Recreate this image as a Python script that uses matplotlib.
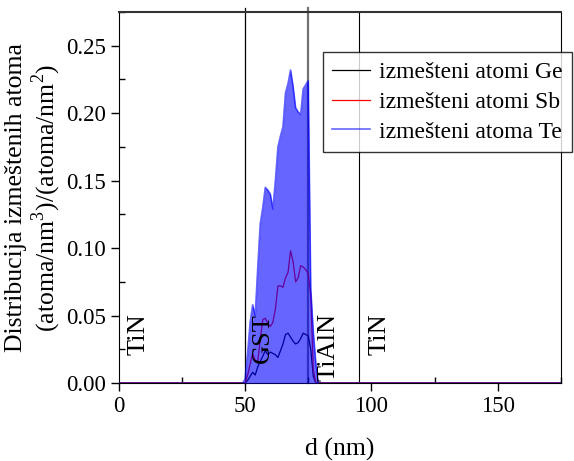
import numpy as np
import matplotlib
matplotlib.use("Agg")
import matplotlib.pyplot as plt
from matplotlib.ticker import MultipleLocator

plt.rcParams['font.family'] = ['Liberation Serif', 'DejaVu Serif']
plt.rcParams['mathtext.fontset'] = 'custom'
plt.rcParams['mathtext.rm'] = 'Liberation Serif'

# depth (nm)
d = [0, 49, 50, 51, 52, 53, 54, 55, 56, 57, 58, 59, 60, 61, 62, 63, 64, 65,
     66, 67, 68, 69, 70, 71, 72, 73, 74, 75, 76, 77, 78, 79, 175]

ge = [0, 0, 0, 0.002, 0.005, 0.008, 0.006, 0.012, 0.016, 0.02, 0.024, 0.021,
      0.023, 0.022, 0.021, 0.019, 0.024, 0.029, 0.036, 0.037, 0.034, 0.031,
      0.029, 0.03, 0.033, 0.037, 0.036, 0.035, 0.025, 0.005, 0, 0, 0]
sb = [0, 0, 0, 0.006, 0.014, 0.022, 0.017, 0.016, 0.032, 0.047, 0.048, 0.044,
      0.042, 0.045, 0.055, 0.072, 0.072, 0.071, 0.078, 0.082, 0.098, 0.09,
      0.075, 0.078, 0.087, 0.086, 0.084, 0.081, 0.065, 0.01, 0, 0, 0]
te = [0, 0, 0.003, 0.022, 0.045, 0.058, 0.05, 0.085, 0.118, 0.13, 0.145, 0.143,
      0.14, 0.129, 0.15, 0.175, 0.183, 0.19, 0.215, 0.222, 0.232, 0.22, 0.204,
      0.201, 0.199, 0.218, 0.221, 0.224, 0.07, 0.038, 0.015, 0, 0]

gst_start = 50
gst_edge = 75
tin_start = 95
regions = ['TiN', 'GST', 'TiAlN', 'TiN']
region_x = [7.8, 57.2, 83.2, 103.3]

fig = plt.figure(figsize=(5.74, 4.61), dpi=100)
ax = fig.add_axes([0.207, 0.169, 0.770, 0.805])

ax.plot(d, ge, color='black', lw=0.9, label='izmešteni atomi Ge', zorder=2)
ax.plot(d, sb, color='red', lw=0.9, label='izmešteni atomi Sb', zorder=2)
ax.plot(d, te, color='blue', alpha=0.6, lw=1.2, label='izmešteni atoma Te',
        zorder=3)
ax.fill_between(d, te, color='blue', alpha=0.6, lw=0, zorder=3)

# layer borders
ax.axvline(gst_start, ymax=1.012, color='black', lw=0.9, zorder=1, clip_on=False)
ax.axvline(gst_edge, ymax=1.012, color='0.45', lw=1.6, zorder=1, clip_on=False)
ax.axvline(tin_start, color='black', lw=0.8, zorder=1)

for name, x in zip(regions, region_x):
    ax.text(x, 0.052, name, rotation=90, ha='center', va='top', fontsize=19,
            zorder=4)

ax.set_xlim(0, 175)
ax.set_ylim(0, 0.275)
ax.xaxis.set_major_locator(MultipleLocator(50))
ax.xaxis.set_minor_locator(MultipleLocator(25))
ax.yaxis.set_major_locator(MultipleLocator(0.05))
ax.yaxis.set_minor_locator(MultipleLocator(0.025))
ax.yaxis.set_major_formatter(matplotlib.ticker.FormatStrFormatter('%.2f'))
ax.tick_params(which='major', direction='out', length=6, width=1, labelsize=16.5)
ax.tick_params(which='minor', direction='in', length=4, width=1)
ax.spines['top'].set_linewidth(1.5)
ax.spines['top'].set_color('0.2')

ax.set_xlabel('d (nm)', fontsize=18.5, labelpad=15)
ax.set_ylabel('Distribucija izmeštenih atoma\n(atoma/nm$^3$)/(atoma/nm$^2$)',
              fontsize=18.5, labelpad=2, linespacing=1.1)

leg = ax.legend(loc='upper right', bbox_to_anchor=(0.997, 0.887),
                bbox_transform=fig.transFigure, fontsize=17, frameon=True,
                fancybox=False, edgecolor='black', handlelength=1.6,
                borderpad=0.4, labelspacing=0.35, handletextpad=0.4,
                borderaxespad=0)
leg.get_frame().set_linewidth(1)

fig.savefig('out.png', dpi=100)
